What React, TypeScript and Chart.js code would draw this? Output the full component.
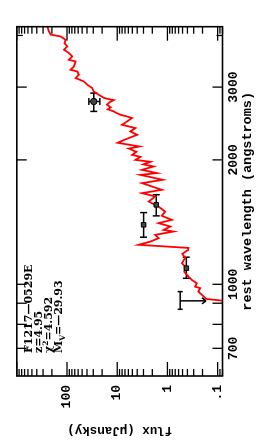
import React, { useEffect, useRef } from "react";
import { Chart, registerables } from "chart.js";

Chart.register(...registerables);

// model spectrum (rest wavelength in angstroms, flux in microJansky)
const specWave = [905, 912, 922, 943, 960, 979, 987, 1006, 1025, 1044, 1072, 1100, 1125, 1159, 1185, 1211, 1225, 1246, 1269, 1293, 1317, 1342, 1354, 1380, 1406, 1432, 1465, 1500, 1542, 1586, 1631, 1662, 1693, 1757, 1790, 1840, 1858, 1892, 1928, 1951, 1979, 2000, 2034, 2057, 2092, 2130, 2155, 2200, 2240, 2300, 2343, 2388, 2432, 2477, 2525, 2547, 2572, 2600, 2620, 2650, 2680, 2720, 2760, 2790, 2822, 2874, 2928, 2984, 3040, 3097, 3155, 3214, 3273, 3304, 3366, 3461, 3494, 3559, 3627, 3695, 3763, 3830, 3906, 3979, 4017, 4091, 4207, 4260];
const specFlux = [0.05, 0.075, 0.17, 0.207, 0.241, 0.223, 0.281, 0.26, 0.327, 0.381, 0.464, 0.43, 0.515, 0.443, 0.508, 0.387, 0.38, 3.74, 2.19, 1.5, 1.75, 0.757, 1.19, 0.88, 1.5, 0.814, 1.3, 1.11, 1.5, 2.37, 1.75, 3.21, 1.29, 3.21, 1.24, 3.46, 1.62, 3.21, 1.89, 3.02, 2.19, 4.35, 3.46, 5.06, 4.16, 5.9, 3.6, 9.8, 7.0, 4.0, 5.47, 4.35, 8.0, 6.36, 5.06, 6.36, 8.64, 10.5, 11.7, 15.5, 13.5, 16, 14, 11.7, 18, 23.3, 29.3, 31.5, 39.5, 46.2, 67.5, 58, 62.5, 84.9, 73, 67.5, 91.7, 78.5, 91.7, 115, 98.6, 112, 107, 134, 211, 229, 246, 255];

// photometry
const photWave = [1094, 1393, 1557, 2769];
const photFlux = [0.42, 2.98, 1.67, 29.3];
const photWaveLo = [1034, 1300, 1464, 2620];
const photWaveHi = [1163, 1491, 1647, 2902];
const photFluxLo = [0.42, 2.98, 1.67, 22.2];
const photFluxHi = [0.42, 2.98, 1.67, 36.7];
const photStyle = ["rect", "rect", "rect", "circle"];

// upper limit
const limWave = [912];
const limFlux = [0.557];
const limWaveLo = [870];
const limWaveHi = [960];
const limFluxTo = [0.17];

// axes
const waveMin = 600;
const waveMax = 4200;
const waveTicks = [700, 800, 900, 1000, 2000, 3000, 4000];
const waveTickLabels = ["700", "", "", "1000", "2000", "3000", ""];
const waveShortTicks = [4000];
const fluxMin = 0.08;
const fluxMax = 1000;
const fluxTicks = [0.1, 1, 10, 100];
const fluxTickLabels = [".1", "1", "10", "100"];

const noteLines = [
  [{ t: "F1217\u20140529E", s: "" }],
  [{ t: "z=4.95", s: "" }],
  [{ t: "\u03c7", s: "" }, { t: "2", s: "sup" }, { t: "=4.592", s: "" }],
  [{ t: "M", s: "" }, { t: "V", s: "sub" }, { t: "=\u201429.93", s: "" }],
];

const W = 443;
const H = 277;

function seg(ctx: CanvasRenderingContext2D, x1: number, y1: number, x2: number, y2: number) {
  ctx.beginPath();
  ctx.moveTo(x1, y1);
  ctx.lineTo(x2, y2);
  ctx.stroke();
}

const decor = {
  id: "decor",
  beforeDatasetsDraw(chart: any) {
    const { ctx, scales } = chart;
    const x = scales.x;
    const y = scales.y;
    ctx.save();
    ctx.strokeStyle = "#000";
    ctx.lineWidth = 1.5;
    const cap = 3.5;
    for (let i = 0; i < photWave.length; i++) {
      const px = x.getPixelForValue(photWave[i]);
      const py = y.getPixelForValue(photFlux[i]);
      const xl = x.getPixelForValue(photWaveLo[i]);
      const xh = x.getPixelForValue(photWaveHi[i]);
      seg(ctx, xl, py, xh, py);
      seg(ctx, xl, py - cap, xl, py + cap);
      seg(ctx, xh, py - cap, xh, py + cap);
      if (photFluxLo[i] !== photFluxHi[i]) {
        const yl = y.getPixelForValue(photFluxLo[i]);
        const yh = y.getPixelForValue(photFluxHi[i]);
        seg(ctx, px, yl, px, yh);
        seg(ctx, px - cap, yl, px + cap, yl);
        seg(ctx, px - cap, yh, px + cap, yh);
      }
    }
    for (let i = 0; i < limWave.length; i++) {
      const px = x.getPixelForValue(limWave[i]);
      const py = y.getPixelForValue(limFlux[i]);
      const xl = x.getPixelForValue(limWaveLo[i]);
      const xh = x.getPixelForValue(limWaveHi[i]);
      const pt = y.getPixelForValue(limFluxTo[i]);
      seg(ctx, xl, py, xh, py);
      seg(ctx, xl, py - 2.5, xl, py + 2.5);
      seg(ctx, xh, py - 2.5, xh, py + 2.5);
      seg(ctx, px, py, px, pt);
      seg(ctx, px - 3, pt - 4, px, pt);
      seg(ctx, px + 3, pt - 4, px, pt);
    }
    ctx.restore();
  },
  afterDraw(chart: any) {
    const { ctx, chartArea: a, scales } = chart;
    const x = scales.x;
    const y = scales.y;
    ctx.save();
    ctx.strokeStyle = "#000";
    ctx.lineWidth = 1.3;
    // wavelength ticks (bottom & top)
    for (const v of waveTicks) {
      const px = x.getPixelForValue(v);
      const len = waveShortTicks.includes(v) ? 6 : 10;
      seg(ctx, px, a.bottom, px, a.bottom - len);
      seg(ctx, px, a.top, px, a.top + len);
    }
    // flux ticks (left & right)
    for (let d = -2; d <= 3; d++) {
      for (let m = 1; m <= 9; m++) {
        const v = m * Math.pow(10, d);
        if (v < fluxMin * 0.999 || v > fluxMax * 1.001) continue;
        const py = y.getPixelForValue(v);
        const len = m === 1 ? 14 : 7;
        seg(ctx, a.left, py, a.left + len, py);
        seg(ctx, a.right, py, a.right - len, py);
      }
    }
    ctx.lineWidth = 1.6;
    ctx.strokeRect(a.left, a.top, a.right - a.left, a.bottom - a.top);
    // annotation
    ctx.fillStyle = "#000";
    ctx.textBaseline = "alphabetic";
    ctx.textAlign = "left";
    const big = 'bold 11px "DejaVu Serif"';
    const small = 'bold 7.5px "DejaVu Serif"';
    noteLines.forEach((line, i) => {
      let cx = a.left + 23;
      const by = a.top + 14.7 + i * 10.3;
      for (const part of line) {
        ctx.font = part.s ? small : big;
        const dy = part.s === "sup" ? -4.5 : part.s === "sub" ? 2.5 : 0;
        ctx.fillText(part.t, cx, by + dy);
        cx += ctx.measureText(part.t).width;
      }
    });
    ctx.restore();
  },
};

export default function App() {
  const ref = useRef<HTMLCanvasElement | null>(null);
  useEffect(() => {
    document.documentElement.style.overflow = "hidden";
    document.body.style.overflow = "hidden";
    const canvas = ref.current;
    if (!canvas) return;
    const tickFont = { family: '"Liberation Mono", monospace', size: 13, weight: "bold" as const };
    const chart = new Chart(canvas, {
      type: "line",
      data: {
        datasets: [
          {
            type: "line",
            data: specWave.map((w, i) => ({ x: w, y: specFlux[i] })),
            borderColor: "#ff0000",
            borderWidth: 1.8,
            pointRadius: 0,
            tension: 0,
            order: 2,
          } as any,
          {
            type: "scatter",
            data: photWave.map((w, i) => ({ x: w, y: photFlux[i] })),
            pointStyle: photStyle as any,
            pointRadius: 3.2,
            backgroundColor: "#444",
            borderColor: "#000",
            borderWidth: 1,
            order: 1,
          } as any,
        ],
      },
      options: {
        animation: false,
        responsive: false,
        devicePixelRatio: 1,
        layout: { padding: { left: 0, right: 26.7, top: 16, bottom: 0 } },
        plugins: { legend: { display: false }, tooltip: { enabled: false } },
        scales: {
          x: {
            type: "logarithmic",
            position: "bottom",
            min: waveMin,
            max: waveMax,
            grid: { display: false, drawTicks: false },
            border: { display: false },
            afterBuildTicks: (s: any) => {
              s.ticks = waveTicks.map((v) => ({ value: v }));
            },
            afterFit: (s: any) => {
              s.height = 54.5;
            },
            ticks: {
              autoSkip: false,
              maxRotation: 0,
              minRotation: 0,
              padding: 3,
              color: "#000",
              font: tickFont,
              callback: (v: any) => {
                const k = waveTicks.indexOf(Number(v));
                return k >= 0 ? waveTickLabels[k] : "";
              },
            },
            title: {
              display: true,
              text: "rest wavelength (angstroms)",
              color: "#000",
              font: { family: '"Liberation Mono", monospace', size: 13.5, weight: "bold" },
              padding: { top: 0, bottom: 21 },
            },
          },
          y: {
            type: "logarithmic",
            position: "left",
            min: fluxMin,
            max: fluxMax,
            grid: { display: false, drawTicks: false },
            border: { display: false },
            afterBuildTicks: (s: any) => {
              s.ticks = fluxTicks.map((v) => ({ value: v }));
            },
            afterFit: (s: any) => {
              s.width = 67;
            },
            ticks: {
              autoSkip: false,
              padding: 9,
              color: "#000",
              font: tickFont,
              callback: (v: any) => {
                const k = fluxTicks.findIndex((t) => Math.abs(t - Number(v)) < t * 1e-6);
                return k >= 0 ? fluxTickLabels[k] : "";
              },
            },
            title: {
              display: true,
              text: "flux (\u03bcJansky)",
              color: "#000",
              font: { family: '"Liberation Mono", monospace', size: 12.5, weight: "bold" },
              padding: { top: 5.5, bottom: 0 },
            },
          },
        },
      },
      plugins: [decor],
    } as any);
    return () => chart.destroy();
  }, []);
  return (
    <div
      style={{
        position: "absolute",
        left: 0,
        top: 0,
        width: W,
        height: H,
        background: "#fff",
        transformOrigin: "0 0",
        transform: `translateY(${W}px) rotate(-90deg)`,
      }}
    >
      <canvas ref={ref} width={W} height={H} style={{ display: "block", width: W, height: H }} />
    </div>
  );
}
